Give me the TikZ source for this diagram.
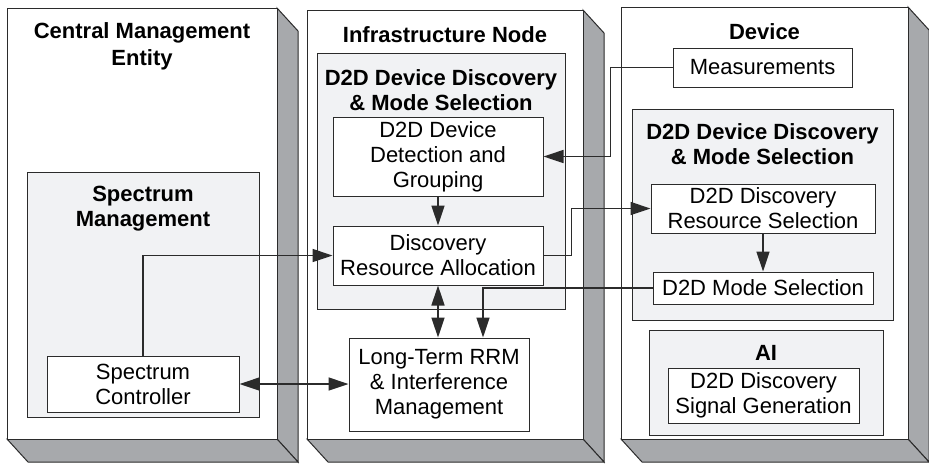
\documentclass[tikz,border=0pt]{standalone}
\usepackage{fontspec}
\setmainfont{Liberation Sans}
\usetikzlibrary{arrows.meta}
\definecolor{sidegray}{HTML}{A7A9AC}
\definecolor{grpfill}{HTML}{F1F2F4}
\definecolor{ink}{HTML}{2B2B2B}
\begin{document}
\begin{tikzpicture}[x=0.5pt, y=-0.5pt,
        every node/.style = {align=center, inner sep=0pt,
        font=\fontsize{11}{12.5}\selectfont},
        box/.style = {draw=ink, fill=white, line width=0.5pt},
        title/.style = {font=\fontsize{11}{12.5}\selectfont\bfseries},
        face/.style = {draw=ink, fill=white, line width=0.5pt},
        side/.style = {draw=ink, fill=sidegray, line width=0.5pt},
        group/.style = {draw=ink, fill=grpfill, line width=0.5pt},
        arr/.style = {draw=ink, line width=0.75pt,
            -{Triangle[length=10pt, width=6.5pt]}},
        arrs/.style = {draw=ink, line width=0.75pt,
            {Triangle[length=10pt, width=6.5pt]}-{Triangle[length=10pt, width=6.5pt]}}]
    \useasboundingbox (0,0) rectangle (929,463);

    % central management entity
    \draw[side] (277,8) -- (298,31) -- (298,462) -- (277,439) -- cycle;
    \draw[side] (7,439) -- (277,439) -- (298,462) -- (28,462) -- cycle;
    \draw[face] (7,8) rectangle (277,439);
    \node[title] (cmetitle) at (142,46.5) {Central Management\\[1pt]Entity};
    \draw[group] (27,172) rectangle (259,417);
    \node[title] (spectitle) at (143,208.5) {Spectrum\\Management};
    \node[box, minimum width=96pt, minimum height=28pt] (ctrl) at (143,384)
        {Spectrum\\Controller};

    % infrastructure node
    \draw[side] (583,10) -- (604,33) -- (604,462) -- (583,439) -- cycle;
    \draw[side] (307,439) -- (583,439) -- (604,462) -- (328,462) -- cycle;
    \draw[face] (307,10) rectangle (583,439);
    \node[title] (inftitle) at (445,35) {Infrastructure Node};
    \draw[group] (317,53) rectangle (565,309);
    \node[title] (infdisc) at (441,90) {D2D Device Discovery\\\& Mode Selection};
    \node[box, minimum width=105pt, minimum height=39.5pt] (detect) at (438,156.5)
        {D2D Device\\Detection and\\Grouping};
    \node[box, minimum width=105pt, minimum height=29.5pt] (alloc) at (438,255.5)
        {Discovery\\Resource Allocation};
    \node[box, minimum width=90pt, minimum height=46.5pt] (rrm) at (439,384.5)
        {Long-Term RRM\\\& Interference\\Management};

    % device
    \draw[side] (908,7) -- (929,30) -- (929,462) -- (908,439) -- cycle;
    \draw[side] (621,439) -- (908,439) -- (929,462) -- (642,462) -- cycle;
    \draw[face] (621,7) rectangle (908,439);
    \node[title] (devtitle) at (764.5,32) {Device};
    \node[box, minimum width=89.5pt, minimum height=19.5pt] (meas) at (762.5,67.5)
        {Measurements};
    \draw[group] (632,109) rectangle (893,320);
    \node[title] (devdisc) at (762.5,144) {D2D Device Discovery\\\& Mode Selection};
    \node[box, minimum width=112pt, minimum height=24.5pt] (ressel) at (763,208.5)
        {D2D Discovery\\Resource Selection};
    \node[box, minimum width=110pt, minimum height=16pt] (mode) at (763,288)
        {D2D Mode Selection};
    \draw[group] (649,330) rectangle (883,435);
    \node[title] (aititle) at (766,353) {AI};
    \node[box, minimum width=95.5pt, minimum height=27.5pt] (siggen) at (763.5,395.5)
        {D2D Discovery\\Signal Generation};

    % connectors
    \draw[arr] (ctrl.north) |- (alloc.west);
    \draw[arrs] (ctrl.east) -- (ctrl.east -| rrm.west);
    \draw[arr] (detect.south) -- (alloc.north);
    \draw[arrs] (alloc.south) -- (alloc.south |- rrm.north);
    \draw[arr] (mode.west) -| ([xshift=22pt]rrm.north);
    \draw[arr] (meas.west) -- ++(-62,0) |- (detect.east);
    \draw[arr] (alloc.east) -- ++(28,0) |- (ressel.west);
    \draw[arr] (ressel.south) -- (mode.north);
\end{tikzpicture}
\end{document}
